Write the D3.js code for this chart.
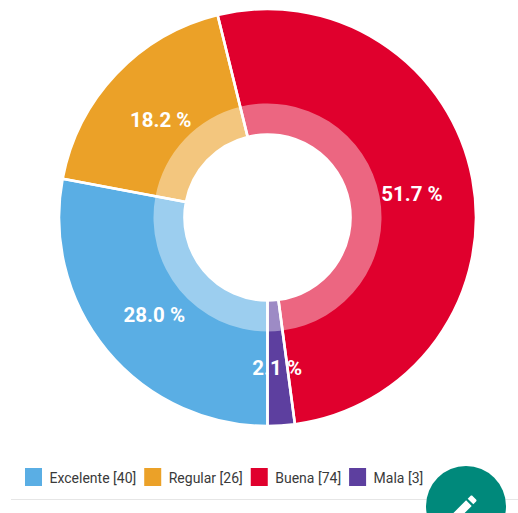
<!DOCTYPE html>
<html><head><meta charset="utf-8">
<script src="https://cdn.jsdelivr.net/npm/d3@7"></script>
<style>html,body{margin:0;padding:0;background:#fff}svg{display:block}text{font-family:Roboto,sans-serif}</style>
</head><body><svg id="c" width="518" height="513"></svg>
<script>
const categories=["Excelente","Regular","Buena","Mala"];
const counts=[40,26,74,3];
const percentLabels=["28.0 %","18.2 %","51.7 %","2.1 %"];
const colors=["#5AAEE4","#EBA128","#E0002D","#5D3F9F"];

const W=518,H=513,cx=267.5,cy=217.5,R=208.5,Rm=114,R0=83;
const svg=d3.select("#c");
const color=d3.scaleOrdinal(categories,colors);
const pie=d3.pie().value(d=>d.v).sort(null).startAngle(Math.PI).endAngle(3*Math.PI);
const arcs=pie(categories.map((c,i)=>({c,v:counts[i],p:percentLabels[i]})));
const g=svg.append("g").attr("transform",`translate(${cx},${cy})`);
const outer=d3.arc().innerRadius(R0).outerRadius(R);
const inner=d3.arc().innerRadius(R0).outerRadius(Rm);
const lab=d3.arc().innerRadius(147).outerRadius(147);

g.selectAll("path.o").data(arcs).join("path").attr("class","o")
 .attr("d",outer).attr("fill",d=>color(d.data.c));
g.selectAll("path.i").data(arcs).join("path").attr("class","i")
 .attr("d",inner).attr("fill","#fff").attr("fill-opacity",0.4);
g.selectAll("path.s").data(arcs).join("path").attr("class","s")
 .attr("d",outer).attr("fill","none").attr("stroke","#fff").attr("stroke-width",2.6);
g.selectAll("text").data(arcs).join("text")
 .attr("transform",d=>`translate(${lab.centroid(d)})`)
 .attr("text-anchor","middle").attr("y",10.5)
 .attr("fill","#fff").attr("font-size",20.5).attr("font-weight",700)
 .text(d=>d.data.p);

// legend
const leg=svg.append("g");
let x=25;
categories.forEach((c,i)=>{
  leg.append("rect").attr("x",x).attr("y",468).attr("width",17).attr("height",18).attr("fill",colors[i]);
  const t=leg.append("text").attr("x",x+24.5).attr("y",483).attr("font-size",14).attr("fill","#3a3a3a")
    .text(`${c} [${counts[i]}]`);
  x+=24.5+t.node().getComputedTextLength()+8;
});
svg.append("line").attr("x1",11).attr("x2",W).attr("y1",499.5).attr("y2",499.5).attr("stroke","#e6e6e6").attr("stroke-width",1);

// action button
const fab=svg.append("g").attr("transform","translate(466,506)");
fab.append("circle").attr("r",40).attr("fill","#00897B");
fab.append("path").attr("transform","translate(-21,-15) scale(1.5)")
 .attr("d","M3 17.25V21h3.75L17.81 9.94l-3.75-3.75L3 17.25zM20.71 7.04c.39-.39.39-1.02 0-1.41l-2.34-2.34c-.39-.39-1.02-.39-1.41 0l-1.83 1.83 3.75 3.75 1.83-1.83z")
 .attr("fill","#fff");
</script></body></html>
